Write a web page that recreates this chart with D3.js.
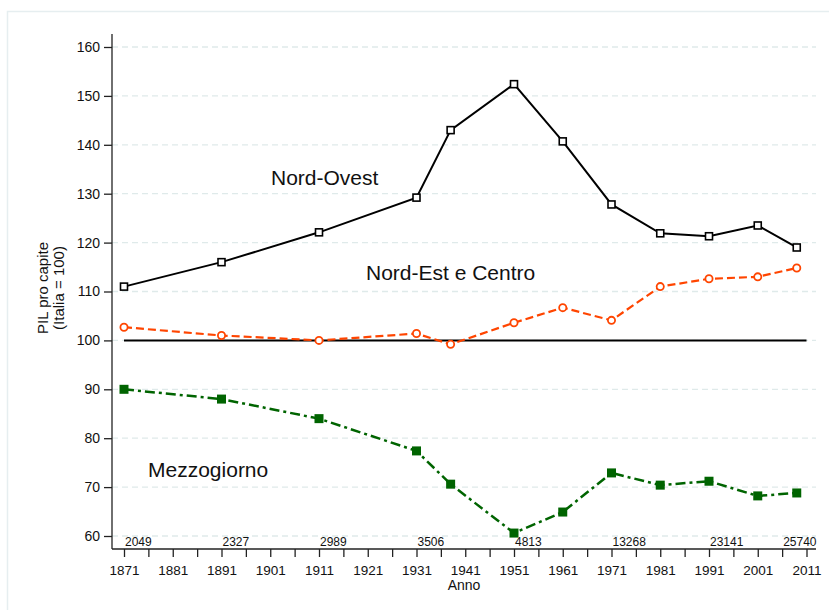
<!DOCTYPE html>
<html><head><meta charset="utf-8">
<script src="https://cdn.jsdelivr.net/npm/d3@7"></script>
<style>body{margin:0;background:#fff;} svg{display:block;font-family:"Liberation Sans",Arial,sans-serif;}</style>
</head><body>
<script>
const years = [1871,1891,1911,1931,1938,1951,1961,1971,1981,1991,2001,2009];
const nordOvest = [111,116,122.1,129.2,143,152.4,140.7,127.8,121.9,121.3,123.5,119];
const nordEstCentro = [102.7,101,100,101.4,99.2,103.6,106.7,104.1,111,112.6,113,114.8];
const mezzogiorno = [90,88,84,77.4,70.6,60.6,64.9,72.9,70.4,71.2,68.2,68.8];
const yTicks = [60,70,80,90,100,110,120,130,140,150,160];
const xTickLabels = [1871,1881,1891,1901,1911,1921,1931,1941,1951,1961,1971,1981,1991,2001,2011];
const gdpYears = [1871,1891,1911,1931,1951,1971,1991,2006];
const gdpLabels = ["2049","2327","2989","3506","4813","13268","23141","25740"];

const W=829,H=610;
const svg=d3.select("body").append("svg").attr("width",W).attr("height",H);
svg.append("rect").attr("x",7.5).attr("y",11.5).attr("width",W).attr("height",H)
  .attr("fill","#fff").attr("stroke","#e6eef0").attr("stroke-width",1.5);

const x=d3.scaleLinear().domain([1871,2011]).range([124,806.5]);
const y=d3.scaleLinear().domain([60,160]).range([536,47]);
const axL=112, axB=549, axR=816, axT=34;

// grid
svg.append("g").selectAll("line").data(yTicks).join("line")
  .attr("x1",axL).attr("x2",axR).attr("y1",d=>y(d)).attr("y2",d=>y(d))
  .attr("stroke","#dfeaea").attr("stroke-width",1.3).attr("stroke-dasharray","6,4");

// axes lines
svg.append("line").attr("x1",axL).attr("x2",axL).attr("y1",axT).attr("y2",axB).attr("stroke","#222").attr("stroke-width",1.3);
svg.append("line").attr("x1",axL).attr("x2",axR).attr("y1",axB).attr("y2",axB).attr("stroke","#222").attr("stroke-width",1.3);

// y axis
const yAxis=d3.axisLeft(y).tickValues(yTicks).tickSize(8).tickPadding(4);
const gy=svg.append("g").attr("transform",`translate(${axL},0)`).call(yAxis);
gy.select(".domain").remove();
gy.selectAll("text").attr("font-size",14).attr("fill","#111").attr("font-family","Liberation Sans, Arial, sans-serif");
gy.selectAll("line").attr("stroke","#222").attr("stroke-width",1.3);

// x axis
const xMinor=d3.range(1871,2012,5);
const xAxis=d3.axisBottom(x).tickValues(xMinor).tickSize(8).tickPadding(8)
  .tickFormat(d=>xTickLabels.includes(d)?String(d):"");
const gx=svg.append("g").attr("transform",`translate(0,${axB})`).call(xAxis);
gx.select(".domain").remove();
gx.selectAll("text").attr("font-size",13.5).attr("fill","#111").attr("font-family","Liberation Sans, Arial, sans-serif");
gx.selectAll("line").attr("stroke","#222").attr("stroke-width",1.3);

svg.append("text").attr("x",(axL+axR)/2).attr("y",590).attr("text-anchor","middle")
  .attr("font-size",14).attr("fill","#111").text("Anno");
const yt=svg.append("text").attr("transform",`translate(48,288) rotate(-90)`).attr("text-anchor","middle")
  .attr("font-size",15).attr("fill","#111");
yt.append("tspan").attr("x",0).attr("dy",0).text("PIL pro capite");
yt.append("tspan").attr("x",0).attr("dy",16).text("(Italia = 100)");

// gdp labels
svg.append("g").selectAll("text").data(gdpYears).join("text")
  .attr("x",d=>x(d)+1).attr("y",546).attr("font-size",12).attr("fill","#111")
  .text((d,i)=>gdpLabels[i]);

// reference line 100
svg.append("line").attr("x1",x(1871)).attr("x2",x(2011)).attr("y1",y(100)).attr("y2",y(100))
  .attr("stroke","#000").attr("stroke-width",2);

const line=d3.line().x(d=>x(d[0])).y(d=>y(d[1]));
const zip=v=>years.map((yr,i)=>[yr,v[i]]);

// Mezzogiorno
const gM=zip(mezzogiorno);
svg.append("path").attr("d",line(gM)).attr("fill","none").attr("stroke","#006400").attr("stroke-width",2.5).attr("stroke-dasharray","10,4,3,4");
svg.append("g").selectAll("rect").data(gM).join("rect")
  .attr("x",d=>x(d[0])-4.5).attr("y",d=>y(d[1])-4.5).attr("width",9).attr("height",9).attr("fill","#006400");

// Nord-Est e Centro
const gE=zip(nordEstCentro);
svg.append("path").attr("d",line(gE)).attr("fill","none").attr("stroke","#ff4500").attr("stroke-width",2.2).attr("stroke-dasharray","8,4");
svg.append("g").selectAll("circle").data(gE).join("circle")
  .attr("cx",d=>x(d[0])).attr("cy",d=>y(d[1])).attr("r",3.6).attr("fill","#fff").attr("stroke","#ff4500").attr("stroke-width",1.8);

// Nord-Ovest
const gO=zip(nordOvest);
svg.append("path").attr("d",line(gO)).attr("fill","none").attr("stroke","#000").attr("stroke-width",2);
svg.append("g").selectAll("rect").data(gO).join("rect")
  .attr("x",d=>x(d[0])-3.5).attr("y",d=>y(d[1])-3.5).attr("width",7).attr("height",7)
  .attr("fill","#fff").attr("stroke","#000").attr("stroke-width",1.6);

// annotations
svg.append("text").attr("x",271).attr("y",185).attr("font-size",21).attr("fill","#111").text("Nord-Ovest");
svg.append("text").attr("x",366).attr("y",280).attr("font-size",21).attr("fill","#111").text("Nord-Est e Centro");
svg.append("text").attr("x",148).attr("y",477).attr("font-size",21).attr("fill","#111").text("Mezzogiorno");
</script>
</body></html>
